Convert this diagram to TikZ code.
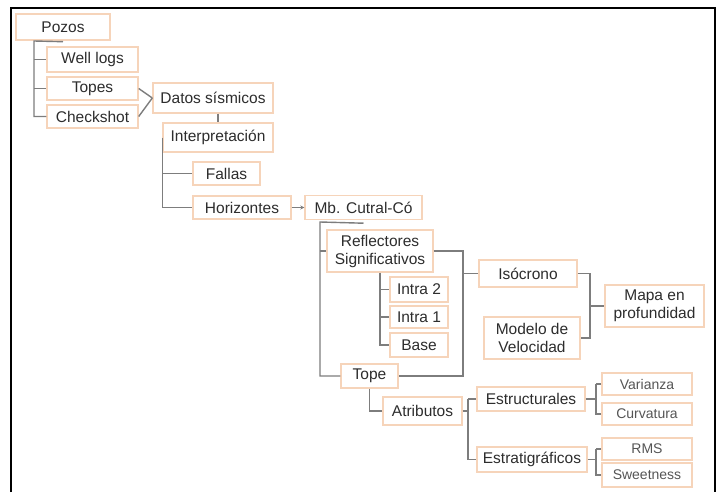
\documentclass[tikz,border=0pt]{standalone}
\usepackage{fontspec}
\setmainfont{Liberation Sans}
\usetikzlibrary{arrows.meta}
\definecolor{boxline}{RGB}{246,212,186}
\definecolor{connline}{RGB}{125,125,125}
\definecolor{txt}{RGB}{45,45,45}
\definecolor{lighttxt}{RGB}{85,85,85}
\tikzset{
  box/.style={draw=boxline, line width=1.4pt, fill=white, inner sep=0pt, align=center,
    text=txt, font=\fontsize{15.5}{18}\selectfont},
  leafbox/.style={box, text=lighttxt, font=\fontsize{14}{16}\selectfont},
  conn/.style={draw=connline, line width=1.4pt},
}
\begin{document}
\begin{tikzpicture}[x=1pt, y=-1pt]
\useasboundingbox (0,0) rectangle (719,492);
\draw[line width=2pt, black] (11,492) -- (11,8) -- (715,8) -- (715,492);

% nodes
\node[box, minimum width=94pt, minimum height=26pt] (pozos) at (63,27) {Pozos};
\node[box, minimum width=91pt, minimum height=25pt] (welllogs) at (92.5,59.5) {Well logs};
\node[box, minimum width=91pt, minimum height=23pt] (topes) at (92.5,88.5) {Topes};
\node[box, minimum width=91pt, minimum height=23pt] (checkshot) at (92.5,116.5) {Checkshot};
\node[box, minimum width=120pt, minimum height=30pt] (datos) at (213,98) {Datos sísmicos};
\node[box, minimum width=110pt, minimum height=29pt] (interp) at (218,137.5) {Interpretación};
\node[box, minimum width=67pt, minimum height=23pt] (fallas) at (226.5,173.5) {Fallas};
\node[box, minimum width=98pt, minimum height=23pt] (horiz) at (242,207.5) {Horizontes};
\node[box, minimum width=117pt, minimum height=24pt] (mb) at (363.5,207.5) {Mb. Cutral-Có};
\node[box, minimum width=106pt, minimum height=42pt] (refl) at (380,251) {Reflectores\\Significativos};
\node[box, minimum width=58pt, minimum height=25pt] (intra2) at (419,289.5) {Intra 2};
\node[box, minimum width=58pt, minimum height=22pt] (intra1) at (419,317) {Intra 1};
\node[box, minimum width=58pt, minimum height=24pt] (base) at (419,345) {Base};
\node[box, minimum width=57pt, minimum height=24pt] (tope) at (369.5,376) {Tope};
\node[box, minimum width=98pt, minimum height=27pt] (iso) at (528,273.5) {Isócrono};
\node[box, minimum width=96pt, minimum height=42pt] (modelo) at (532,338) {Modelo de\\Velocidad};
\node[box, minimum width=99pt, minimum height=42pt] (mapa) at (654.5,306) {Mapa en\\profundidad};
\node[box, minimum width=79pt, minimum height=28pt] (atrib) at (422.5,411) {Atributos};
\node[box, minimum width=108pt, minimum height=24pt] (estruc) at (531,399) {Estructurales};
\node[box, minimum width=110pt, minimum height=25pt] (estrat) at (532,459.5) {Estratigráficos};
\node[leafbox, minimum width=90pt, minimum height=22pt] (varianza) at (647,384) {Varianza};
\node[leafbox, minimum width=90pt, minimum height=22pt] (curv) at (647,414) {Curvatura};
\node[leafbox, minimum width=90pt, minimum height=22pt] (rms) at (647,449) {RMS};
\node[leafbox, minimum width=90pt, minimum height=24pt] (sweet) at (647,475) {Sweetness};

% coordinates for trunks
\coordinate (ptop) at (34,41);
\coordinate (mbtop) at (320,222);
\coordinate (rj) at (463,251);
\coordinate (ij) at (590,273.5);
\coordinate (aj) at (468,411);
\coordinate (ej) at (596,399);
\coordinate (sj) at (596,459.5);

% Pozos tree
\draw[conn] (pozos.south) ++(0,1) -- (ptop) |- (checkshot.west);
\draw[conn] (ptop |- welllogs.west) -- (welllogs.west);
\draw[conn] (ptop |- topes.west) -- (topes.west);
% to Datos sismicos
\draw[conn] (topes.east) -- (datos.west);
\draw[conn] (checkshot.east) -- (datos.west);
\draw[conn] (datos.south -| interp.north) -- (interp.north);
% Interpretacion tree
\draw[conn] (interp.west) |- (horiz.west);
\draw[conn] (interp.west |- fallas.west) -- (fallas.west);
\draw[conn, -{Stealth[length=4pt,width=4pt]}] (horiz.east) -- (mb.west);
% Mb tree
\draw[conn] (mb.south) ++(0,3) -- (mbtop) |- (tope.west);
\draw[conn] (mbtop |- refl.west) -- (refl.west);
% Reflectores tree
\draw[conn] (refl.south) |- (base.west);
\draw[conn] (refl.south |- intra2.west) -- (intra2.west);
\draw[conn] (refl.south |- intra1.west) -- (intra1.west);
% Reflectores & Tope -> Isocrono
\draw[conn] (refl.east) -- (rj) |- (tope.east);
\draw[conn] (rj |- iso.west) -- (iso.west);
% Isocrono & Modelo -> Mapa
\draw[conn] (iso.east) -- (ij) |- (modelo.east);
\draw[conn] (ij |- mapa.west) -- (mapa.west);
% Tope -> Atributos
\draw[conn] (tope.south) |- (atrib.west);
\draw[conn] (atrib.east) -- (aj);
\draw[conn] (aj |- estruc.west) |- (estrat.west);
\draw[conn] (aj |- estruc.west) -- (estruc.west);
% Estructurales
\draw[conn] (estruc.east) -- (ej);
\draw[conn] (ej |- varianza.west) |- (curv.west);
\draw[conn] (ej |- varianza.west) -- (varianza.west);
% Estratigraficos
\draw[conn] (estrat.east) -- (sj);
\draw[conn] (sj |- rms.west) |- (sweet.west);
\draw[conn] (sj |- rms.west) -- (rms.west);
\end{tikzpicture}
\end{document}
